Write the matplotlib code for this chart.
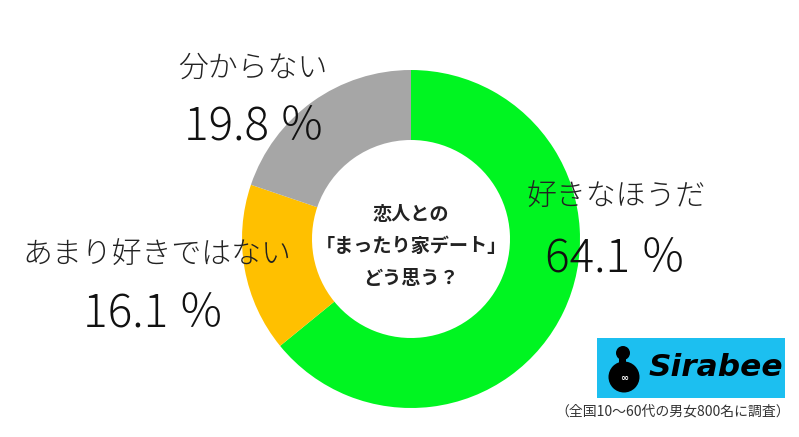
import matplotlib
matplotlib.use("Agg")
import matplotlib.pyplot as plt
from matplotlib.patches import Rectangle, Circle

plt.rcParams['font.family'] = ['Noto Sans CJK JP', 'DejaVu Sans']

categories = ["好きなほうだ", "あまり好きではない", "分からない"]
values = [64.1, 16.1, 19.8]
colors = ["#00F521", "#FFC000", "#A6A6A6"]
pct_labels = ["64.1 ％", "16.1 ％", "19.8 ％"]
center_lines = ["恋人との", "「まったり家デート」", "どう思う？"]
footnote = "（全国10～60代の男女800名に調査）"
brand = "Sirabee"

W, H = 799, 437
fig = plt.figure(figsize=(W / 100, H / 100), dpi=100)
ax = fig.add_axes([0, 0, 1, 1])

def Y(py):
    return H - py

cx, cy, R, r_in = 411, Y(239), 169, 99
ax.pie(values, colors=colors, startangle=90, counterclock=False,
       radius=R, center=(cx, cy), frame=True,
       wedgeprops=dict(width=R - r_in, linewidth=0))
ax.set_xlim(0, W)
ax.set_ylim(0, H)
ax.set_aspect('equal')
ax.axis('off')

# category labels and percentages
label_pos = [(616, 197), (157, 255), (253, 68)]
pct_pos = [(616, 260), (154, 315), (255, 128)]
for cat, (x, y) in zip(categories, label_pos):
    ax.text(x, Y(y), cat, ha='center', va='center', fontsize=21.5,
            fontweight='light', color='#222222')
for p, (x, y) in zip(pct_labels, pct_pos):
    ax.text(x, Y(y), p, ha='center', va='center', fontsize=33,
            fontweight='light', color='#111111')

# center text
for line, y in zip(center_lines, [215, 246, 279]):
    ax.text(cx, Y(y), line, ha='center', va='center', fontsize=13.8,
            fontweight='bold', color='#222222')

# logo
ax.add_patch(Rectangle((597, Y(398)), 188, 60, facecolor='#1CBFF0', edgecolor='none'))
ax.add_patch(Circle((624, Y(377)), 15.5, facecolor='black', edgecolor='none'))
ax.add_patch(Circle((623, Y(353)), 7, facecolor='black', edgecolor='none'))
ax.add_patch(Rectangle((619, Y(366)), 7, 12, facecolor='black', edgecolor='none'))
ax.text(624, Y(378), "∞", ha='center', va='center', fontsize=7, color='white',
        family='DejaVu Sans', fontweight='bold')
ax.text(649, Y(368), brand, ha='left', va='center', fontsize=22.5,
        fontweight='bold', style='italic', color='black', family='DejaVu Sans')

ax.text(790, Y(412), footnote, ha='right', va='center', fontsize=10, color='#333333')

fig.savefig("out.png", dpi=100)
